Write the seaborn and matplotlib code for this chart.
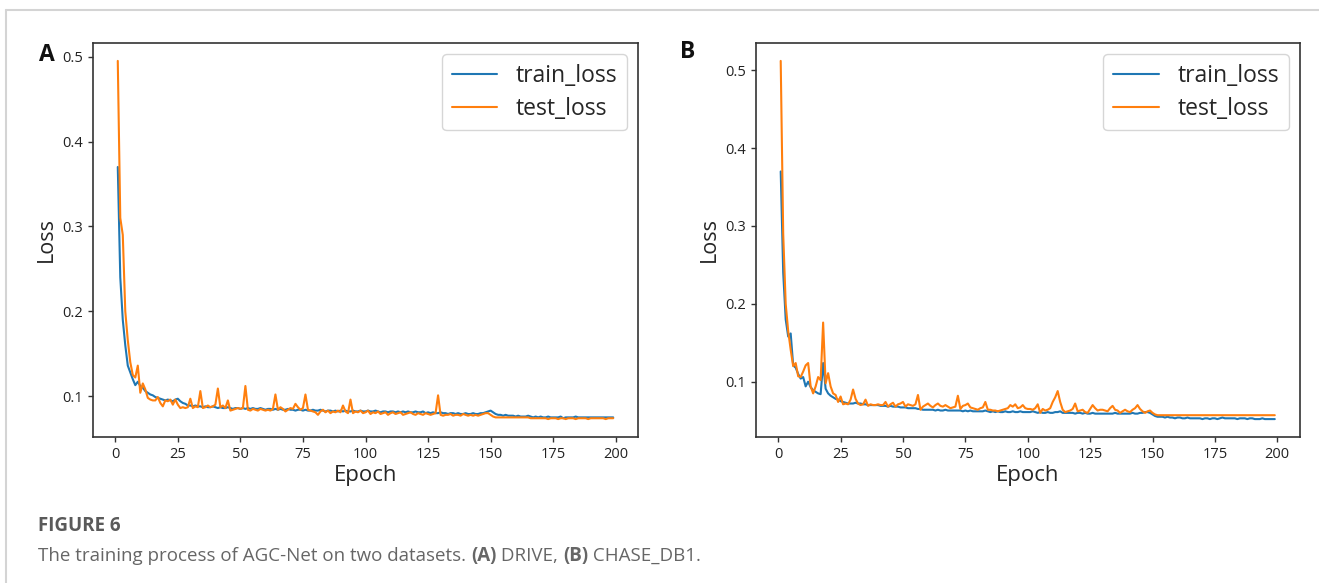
import matplotlib
matplotlib.use("Agg")
import matplotlib.pyplot as plt
import pandas as pd
import seaborn as sns
from matplotlib.lines import Line2D

# ---------------- data ----------------
drive_train = [
    0.370, 0.240, 0.190, 0.160, 0.136, 0.128, 0.120, 0.113, 0.117, 0.112,
    0.110, 0.106, 0.104, 0.102, 0.101, 0.099, 0.098, 0.097, 0.096, 0.095,
    0.096, 0.095, 0.094, 0.096, 0.097, 0.094, 0.092, 0.091, 0.089, 0.089,
    0.088, 0.089, 0.088, 0.088, 0.087, 0.088, 0.087, 0.087, 0.088, 0.087,
    0.086, 0.087, 0.086, 0.086, 0.087, 0.086, 0.085, 0.086, 0.086, 0.085,
    0.086, 0.085, 0.086, 0.085, 0.086, 0.085, 0.085, 0.086, 0.085, 0.084,
    0.085, 0.085, 0.084, 0.085, 0.084, 0.085, 0.084, 0.084, 0.085, 0.084,
    0.084, 0.083, 0.084, 0.084, 0.083, 0.084, 0.083, 0.083, 0.084, 0.083,
    0.083, 0.084, 0.083, 0.082, 0.083, 0.083, 0.082, 0.083, 0.082, 0.083,
    0.082, 0.083, 0.082, 0.082, 0.083, 0.082, 0.082, 0.083, 0.082, 0.082,
    0.083, 0.082, 0.082, 0.083, 0.082, 0.081, 0.082, 0.082, 0.081, 0.082,
    0.082, 0.081, 0.082, 0.081, 0.082, 0.081, 0.082, 0.081, 0.081, 0.082,
    0.081, 0.081, 0.082, 0.080, 0.081, 0.080, 0.081, 0.080, 0.080, 0.081,
    0.080, 0.080, 0.079, 0.080, 0.080, 0.079, 0.080, 0.079, 0.079, 0.080,
    0.079, 0.079, 0.080, 0.079, 0.079, 0.080, 0.080, 0.081, 0.082, 0.083,
    0.081, 0.079, 0.078, 0.078, 0.077, 0.078, 0.077, 0.077, 0.077, 0.076,
    0.077, 0.076, 0.076, 0.076, 0.077, 0.076, 0.075, 0.076, 0.075, 0.076,
    0.075, 0.075, 0.076, 0.075, 0.075, 0.075, 0.075, 0.076, 0.074, 0.075,
    0.075, 0.075, 0.075, 0.076, 0.075, 0.075, 0.075, 0.075, 0.075, 0.075,
    0.075, 0.075, 0.075, 0.075, 0.075, 0.075, 0.075, 0.075, 0.075,
]
drive_test = [
    0.495, 0.310, 0.290, 0.200, 0.166, 0.140, 0.125, 0.122, 0.136, 0.104,
    0.115, 0.108, 0.098, 0.096, 0.095, 0.095, 0.099, 0.092, 0.088, 0.095,
    0.094, 0.096, 0.090, 0.096, 0.090, 0.086, 0.087, 0.086, 0.087, 0.097,
    0.086, 0.088, 0.087, 0.106, 0.086, 0.087, 0.089, 0.087, 0.088, 0.090,
    0.109, 0.087, 0.089, 0.086, 0.095, 0.083, 0.084, 0.085, 0.086, 0.085,
    0.086, 0.112, 0.084, 0.083, 0.085, 0.084, 0.083, 0.085, 0.084, 0.083,
    0.084, 0.083, 0.085, 0.102, 0.084, 0.087, 0.085, 0.082, 0.084, 0.086,
    0.085, 0.091, 0.087, 0.084, 0.086, 0.102, 0.084, 0.083, 0.082, 0.081,
    0.078, 0.082, 0.084, 0.081, 0.083, 0.080, 0.082, 0.081, 0.083, 0.081,
    0.089, 0.082, 0.080, 0.096, 0.080, 0.082, 0.081, 0.083, 0.080, 0.081,
    0.083, 0.079, 0.081, 0.080, 0.082, 0.079, 0.080, 0.081, 0.078, 0.080,
    0.081, 0.079, 0.080, 0.081, 0.078, 0.079, 0.080, 0.081, 0.079, 0.078,
    0.080, 0.079, 0.078, 0.080, 0.079, 0.078, 0.079, 0.080, 0.101, 0.078,
    0.077, 0.078, 0.078, 0.079, 0.077, 0.078, 0.078, 0.077, 0.079, 0.078,
    0.077, 0.078, 0.077, 0.078, 0.077, 0.078, 0.079, 0.080, 0.080, 0.078,
    0.076, 0.075, 0.075, 0.075, 0.075, 0.075, 0.075, 0.075, 0.075, 0.075,
    0.075, 0.075, 0.075, 0.075, 0.075, 0.074, 0.074, 0.074, 0.074, 0.074,
    0.074, 0.074, 0.073, 0.074, 0.074, 0.074, 0.073, 0.074, 0.074, 0.073,
    0.074, 0.074, 0.074, 0.073, 0.074, 0.074, 0.074, 0.074, 0.073, 0.074,
    0.074, 0.074, 0.074, 0.074, 0.074, 0.073, 0.074, 0.074, 0.074,
]
chase_train = [
    0.370, 0.240, 0.180, 0.158, 0.162, 0.121, 0.118, 0.110, 0.104, 0.106,
    0.094, 0.100, 0.093, 0.089, 0.087, 0.085, 0.084, 0.124, 0.091, 0.085,
    0.082, 0.080, 0.078, 0.077, 0.075, 0.074, 0.073, 0.072, 0.072, 0.072,
    0.073, 0.072, 0.072, 0.071, 0.071, 0.070, 0.070, 0.070, 0.070, 0.070,
    0.069, 0.069, 0.069, 0.068, 0.069, 0.068, 0.068, 0.068, 0.067, 0.067,
    0.067, 0.066, 0.066, 0.066, 0.066, 0.065, 0.065, 0.064, 0.064, 0.064,
    0.064, 0.064, 0.063, 0.064, 0.063, 0.063, 0.064, 0.063, 0.063, 0.063,
    0.063, 0.063, 0.063, 0.062, 0.063, 0.062, 0.063, 0.062, 0.062, 0.062,
    0.062, 0.062, 0.063, 0.062, 0.061, 0.062, 0.061, 0.062, 0.061, 0.061,
    0.062, 0.061, 0.061, 0.062, 0.061, 0.061, 0.062, 0.061, 0.061, 0.061,
    0.061, 0.062, 0.061, 0.060, 0.061, 0.060, 0.060, 0.061, 0.060, 0.060,
    0.061, 0.061, 0.062, 0.060, 0.060, 0.060, 0.060, 0.060, 0.059, 0.060,
    0.060, 0.059, 0.060, 0.059, 0.059, 0.060, 0.059, 0.059, 0.059, 0.059,
    0.059, 0.059, 0.059, 0.059, 0.060, 0.059, 0.059, 0.059, 0.059, 0.059,
    0.059, 0.060, 0.059, 0.059, 0.060, 0.060, 0.061, 0.061, 0.060, 0.058,
    0.056, 0.055, 0.055, 0.055, 0.054, 0.055, 0.054, 0.054, 0.053, 0.054,
    0.054, 0.053, 0.053, 0.054, 0.053, 0.053, 0.053, 0.053, 0.053, 0.052,
    0.053, 0.053, 0.052, 0.053, 0.053, 0.052, 0.053, 0.054, 0.053, 0.053,
    0.053, 0.053, 0.053, 0.052, 0.053, 0.053, 0.053, 0.052, 0.053, 0.053,
    0.052, 0.052, 0.052, 0.053, 0.052, 0.052, 0.052, 0.052, 0.052,
]
chase_test = [
    0.512, 0.290, 0.200, 0.165, 0.141, 0.120, 0.124, 0.107, 0.106, 0.113,
    0.121, 0.124, 0.094, 0.085, 0.094, 0.106, 0.102, 0.176, 0.098, 0.111,
    0.094, 0.085, 0.083, 0.074, 0.081, 0.071, 0.072, 0.071, 0.077, 0.090,
    0.078, 0.072, 0.070, 0.071, 0.077, 0.069, 0.071, 0.070, 0.070, 0.071,
    0.070, 0.070, 0.074, 0.068, 0.071, 0.073, 0.068, 0.071, 0.072, 0.074,
    0.068, 0.071, 0.070, 0.069, 0.071, 0.083, 0.064, 0.068, 0.070, 0.072,
    0.069, 0.067, 0.070, 0.072, 0.069, 0.068, 0.070, 0.068, 0.066, 0.067,
    0.068, 0.082, 0.065, 0.069, 0.070, 0.072, 0.067, 0.066, 0.065, 0.064,
    0.066, 0.067, 0.074, 0.064, 0.064, 0.063, 0.063, 0.062, 0.063, 0.064,
    0.065, 0.066, 0.070, 0.068, 0.071, 0.066, 0.067, 0.070, 0.066, 0.065,
    0.065, 0.064, 0.066, 0.071, 0.060, 0.065, 0.063, 0.064, 0.066, 0.074,
    0.080, 0.088, 0.074, 0.064, 0.061, 0.062, 0.063, 0.065, 0.072, 0.062,
    0.063, 0.064, 0.061, 0.060, 0.065, 0.070, 0.066, 0.063, 0.064, 0.064,
    0.063, 0.062, 0.066, 0.069, 0.064, 0.063, 0.060, 0.062, 0.064, 0.062,
    0.061, 0.064, 0.066, 0.070, 0.065, 0.062, 0.060, 0.062, 0.063, 0.060,
    0.058, 0.057, 0.057, 0.057, 0.057, 0.057, 0.057, 0.057, 0.057, 0.057,
    0.057, 0.057, 0.057, 0.057, 0.057, 0.057, 0.057, 0.057, 0.057, 0.057,
    0.057, 0.057, 0.057, 0.057, 0.057, 0.057, 0.057, 0.057, 0.057, 0.057,
    0.057, 0.057, 0.057, 0.057, 0.057, 0.057, 0.057, 0.057, 0.057, 0.057,
    0.057, 0.057, 0.057, 0.057, 0.057, 0.057, 0.057, 0.057, 0.057,
]
series_names = ["train_loss", "test_loss"]
panel_letters = ["A", "B"]
caption_title = "FIGURE 6"
caption_parts = [
    ("The training process of AGC-Net on two datasets. ", "normal"),
    ("(A)", "bold"), (" DRIVE, ", "normal"),
    ("(B)", "bold"), (" CHASE_DB1.", "normal"),
]

# ---------------- style ----------------
sns.set_style("ticks")
plt.rcParams["font.family"] = ["Open Sans", "DejaVu Sans"]
plt.rcParams["axes.edgecolor"] = "#333333"
plt.rcParams["axes.linewidth"] = 1.2
plt.rcParams["xtick.color"] = "#333333"
plt.rcParams["ytick.color"] = "#333333"
plt.rcParams["xtick.labelcolor"] = "#222222"
plt.rcParams["ytick.labelcolor"] = "#222222"

W, H = 1319, 583
fig = plt.figure(figsize=(W / 100, H / 100), dpi=100)
fig.patch.set_facecolor("white")

def fx(px):
    return px / W

def fy(py):
    return 1 - py / H

ax_a = fig.add_axes([fx(93), fy(437), fx(638 - 93), (437 - 43) / H])
ax_b = fig.add_axes([fx(756), fy(437), fx(1299.5 - 756), (437 - 43) / H])

palette = {"train_loss": "#1f77b4", "test_loss": "#ff7f0e"}

for ax, tr, te in [(ax_a, drive_train, drive_test), (ax_b, chase_train, chase_test)]:
    df = pd.DataFrame({
        "Epoch": list(range(1, len(tr) + 1)) + list(range(1, len(te) + 1)),
        "Loss": tr + te,
        "series": [series_names[0]] * len(tr) + [series_names[1]] * len(te),
    })
    sns.lineplot(data=df, x="Epoch", y="Loss", hue="series",
                 hue_order=series_names, palette=palette, ax=ax,
                 linewidth=1.5, errorbar=None)
    ax.set_xlabel("Epoch", fontsize=16, labelpad=2)
    ax.set_ylabel("Loss", fontsize=15.5, labelpad=4)
    ax.tick_params(axis="both", labelsize=10.5, length=3.5, width=1)
    ax.set_xticks([0, 25, 50, 75, 100, 125, 150, 175, 200])
    ax.set_yticks([0.1, 0.2, 0.3, 0.4, 0.5])
    ax.set_yticklabels(["0.1", "0.2", "0.3", "0.4", "0.5"])
    handles, labels = ax.get_legend_handles_labels()
    ax.legend(handles=handles, labels=labels, loc="upper right", fontsize=16.5,
              frameon=True, borderaxespad=0.48, handlelength=2.0,
              labelspacing=0.4, handletextpad=0.8, borderpad=0.42)
    for s in ax.spines.values():
        s.set_visible(True)

fig.text(fx(39), fy(55), panel_letters[0], fontsize=16.5, fontweight="bold",
         ha="left", va="center", color="#111111")
fig.text(fx(680), fy(52), panel_letters[1], fontsize=16.5, fontweight="bold",
         ha="left", va="center", color="#111111")

# light frame of the figure panel (top and left edges only)
fig.add_artist(Line2D([fx(6), 1.0], [fy(10), fy(10)], transform=fig.transFigure,
                      color="#d4d4d4", linewidth=1.5))
fig.add_artist(Line2D([fx(6), fx(6)], [fy(10), 0.0], transform=fig.transFigure,
                      color="#d4d4d4", linewidth=1.5))

# caption
cap_color = "#666666"
fig.text(fx(38), fy(526), caption_title, fontsize=13.5, fontweight="bold",
         color="#5a5a5a", ha="left", va="center")
fig.canvas.draw()
renderer = fig.canvas.get_renderer()
x = 38
for txt, wgt in caption_parts:
    t = fig.text(fx(x), fy(556), txt, fontsize=13.5, fontweight=wgt,
                 color=cap_color, ha="left", va="center")
    bb = t.get_window_extent(renderer=renderer)
    x += bb.width

fig.savefig("out.png", dpi=100, facecolor="white")
